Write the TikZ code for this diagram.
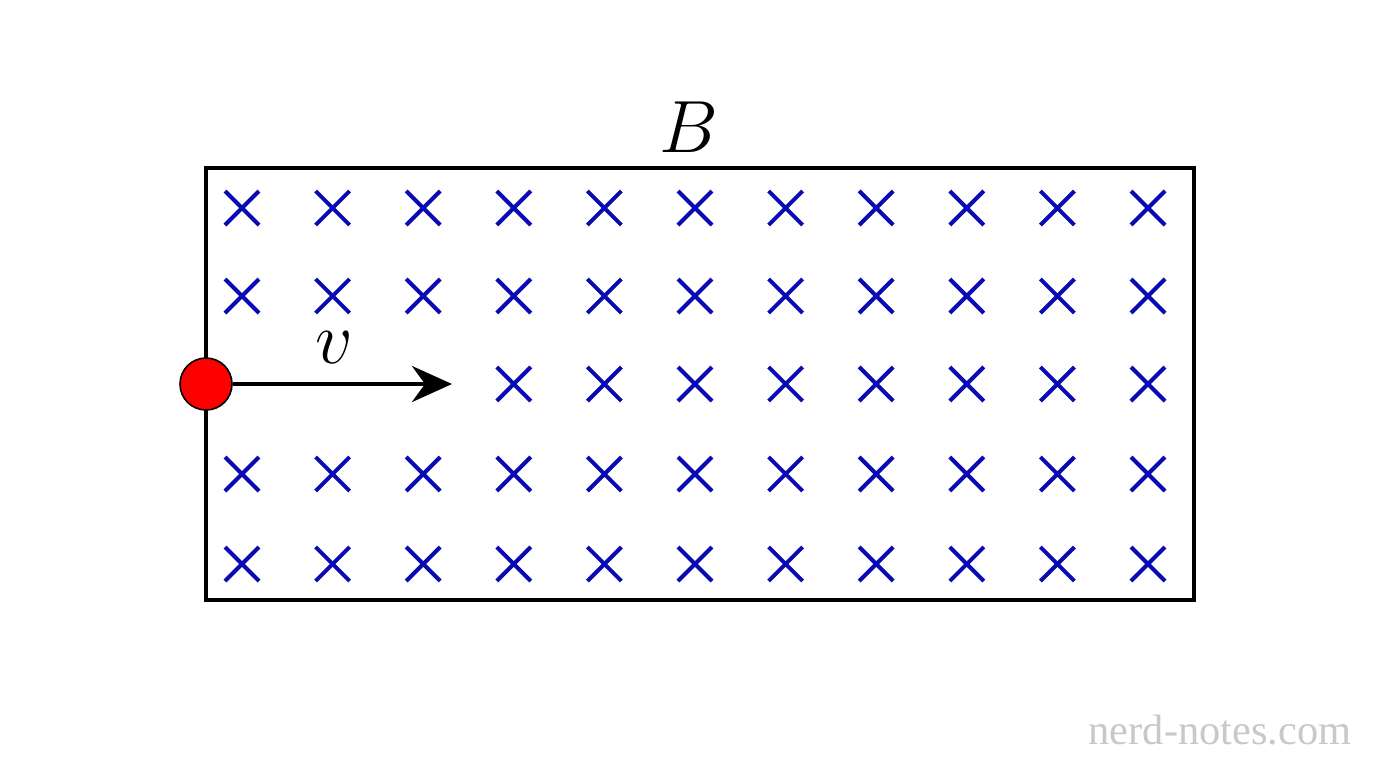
\documentclass[tikz,border=0pt]{standalone}
\usepackage{fix-cm}
\usepackage{fontspec}
\newfontfamily\wmfont{Liberation Serif}
\usetikzlibrary{arrows.meta}
\definecolor{crossblue}{RGB}{10,10,180}
\definecolor{wmgray}{RGB}{200,200,200}
\tikzset{
  field/.style={line width=2pt},
  crossmark/.style={draw=crossblue, line width=2pt},
  charge/.style={circle, draw=black, line width=0.8pt, fill=red, minimum size=26pt, inner sep=0pt},
  vel/.style={line width=2pt, -{Stealth[length=20pt,width=18pt]}},
  lbl/.style={font=\fontsize{37}{40}\selectfont}
}
\begin{document}
\begin{tikzpicture}[x=0.5pt,y=-0.5pt]
\useasboundingbox (0,0) rectangle (1376,768);
\draw[field] (206,168) rectangle (1194,600);
\foreach \r/\yy in {0/208,1/296,2/384,3/474,4/564}{
  \foreach \c in {0,...,10}{
    \pgfmathsetmacro{\xx}{242+90.6*\c}
    \ifnum\r=2 \ifnum\c<3 \else
      \draw[crossmark] (\xx-17,\yy-17) -- (\xx+17,\yy+17) (\xx-17,\yy+17) -- (\xx+17,\yy-17);
    \fi\else
      \draw[crossmark] (\xx-17,\yy-17) -- (\xx+17,\yy+17) (\xx-17,\yy+17) -- (\xx+17,\yy-17);
    \fi
  }
}
\node[charge] (q) at (206,384) {};
\coordinate (tip) at (452,384);
\draw[vel] (q) -- (tip);
\node[lbl] (v) at (334,348) {$v$};
\node[lbl] (B) at (689,127) {$B$};
\node[font=\wmfont\fontsize{21.2}{24}\selectfont, text=wmgray] (wm) at (1220,730) {nerd-notes.com};
\end{tikzpicture}
\end{document}
